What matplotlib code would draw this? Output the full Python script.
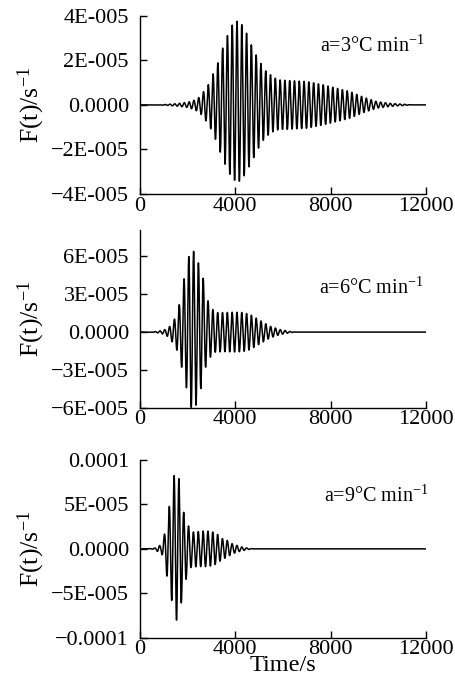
import numpy as np
import matplotlib
matplotlib.use("Agg")
import matplotlib.pyplot as plt

plt.rcParams['font.family'] = ['Liberation Serif', 'DejaVu Serif']
plt.rcParams['mathtext.fontset'] = 'custom'
plt.rcParams['mathtext.rm'] = 'Liberation Serif'
plt.rcParams['mathtext.it'] = 'Liberation Serif:italic'

# ---- data (amplitudes in units of 1e-5 s^-1) ----
rates = ["a=3°C min$^{-1}$", "a=6°C min$^{-1}$", "a=9°C min$^{-1}$"]

# panel 1: upper / lower envelope knots
t_up1 = [0, 800, 1200, 1600, 2000, 2300, 2520, 2860, 3050, 3250, 3440, 3665, 3860, 4070,
         4270, 4480, 4670, 4870, 5065, 5270, 5480, 5670, 5870, 6100, 7000, 7690, 8250,
         8810, 9370, 9930, 10490, 11190, 11400, 12000]
up1 = [0, 0, 0.03, 0.06, 0.12, 0.22, 0.37, 0.9, 1.35, 1.83, 2.47, 3.1, 3.57, 3.75,
       3.6, 3.2, 2.7, 2.25, 1.87, 1.53, 1.35, 1.2, 1.12, 1.1, 1.05, 0.9, 0.75,
       0.6, 0.35, 0.15, 0.07, 0.02, 0, 0]
t_lo1 = t_up1
lo1 = [0, 0, 0.03, 0.06, 0.12, 0.22, 0.37, 0.85, 1.25, 1.75, 2.35, 2.9, 3.3, 3.45,
       3.4, 2.95, 2.6, 2.15, 1.75, 1.45, 1.27, 1.15, 1.1, 1.1, 1.05, 0.9, 0.75,
       0.6, 0.35, 0.15, 0.07, 0.02, 0, 0]

# panel 2
t_up2 = [0, 500, 800, 1050, 1260, 1440, 1650, 1830, 2050, 2250, 2450, 2650, 2850, 3050,
         3250, 3500, 4000, 4320, 4620, 5040, 5455, 5875, 6295, 6550, 12000]
up2 = [0, 0, 0.08, 0.2, 0.47, 1.0, 2.2, 4.08, 6.0, 6.4, 5.5, 4.3, 2.5, 1.8,
       1.55, 1.55, 1.58, 1.55, 1.4, 0.92, 0.47, 0.2, 0.05, 0, 0]
t_lo2 = [0, 500, 800, 1050, 1260, 1540, 1748, 1958, 2154, 2350, 2550, 2750, 2950, 3150,
         3500, 4000, 4320, 4620, 5040, 5455, 5875, 6295, 6550, 12000]
lo2 = [0, 0, 0.08, 0.2, 0.5, 1.4, 2.8, 4.5, 6.0, 5.8, 4.5, 2.8, 2.0, 1.6,
       1.55, 1.58, 1.55, 1.4, 0.92, 0.47, 0.2, 0.05, 0, 0]

# panel 3
t_up3 = [0, 300, 420, 630, 840, 1035, 1230, 1440, 1636, 1830, 2040, 2240, 2450, 2640,
         2850, 3050, 3245, 3455, 3650, 3850, 4055, 4265, 4475, 4755, 12000]
up3 = [0, 0, 0.03, 0.1, 0.4, 1.72, 4.8, 8.4, 7.9, 4.15, 2.55, 1.9, 1.95, 2.0,
       2.0, 1.9, 1.65, 1.16, 0.97, 0.6, 0.4, 0.22, 0.1, 0, 0]
t_lo3 = [0, 300, 600, 940, 1130, 1340, 1540, 1735, 1945, 2140, 2400, 2800, 3050, 3245,
         3455, 3650, 3850, 4055, 4265, 4475, 4755, 12000]
lo3 = [0, 0, 0.05, 0.7, 3.1, 5.95, 8.1, 6.07, 3.3, 2.1, 2.0, 2.0, 1.9, 1.65,
       1.16, 0.97, 0.6, 0.4, 0.22, 0.1, 0, 0]

# oscillation period (s) and time of a crest (s)
periods = [201, 202, 203]
crest_times = [4070, 2250, 1430]

# axes ticks
x_ticks = [0, 4000, 8000, 12000]
x_labels = ["0", "4000", "8000", "12000"]
y_ticks = [[-4e-5, -2e-5, 0, 2e-5, 4e-5],
           [-6e-5, -3e-5, 0, 3e-5, 6e-5],
           [-1e-4, -5e-5, 0, 5e-5, 1e-4]]
y_labels = [["\u22124E-005", "\u22122E-005", "0.0000", "2E-005", "4E-005"],
            ["\u22126E-005", "\u22123E-005", "0.0000", "3E-005", "6E-005"],
            ["\u22120.0001", "\u22125E-005", "0.0000", "5E-005", "0.0001"]]
y_lims = [(-4e-5, 4e-5), (-6e-5, 8.1e-5), (-1e-4, 1e-4)]

envelopes = [(t_up1, up1, t_lo1, lo1), (t_up2, up2, t_lo2, lo2), (t_up3, up3, t_lo3, lo3)]

fig = plt.figure(figsize=(4.56, 6.9), dpi=100)
rects = [[0.307, 0.7188, 0.6272, 0.2584],
         [0.307, 0.4091, 0.6272, 0.2576],
         [0.307, 0.0758, 0.6272, 0.2575]]
text_pos = [(0.995, 0.83), (0.99, 0.675), (1.01, 0.795)]

t = np.arange(0, 12001, 2.0)
for i in range(3):
    ax = fig.add_axes(rects[i])
    tu, u, tl, l = envelopes[i]
    eu = np.interp(t, tu, u) * 1e-5
    el = np.interp(t, tl, l) * 1e-5
    carrier = np.cos(2 * np.pi * (t - crest_times[i]) / periods[i])
    y = (eu - el) / 2 + (eu + el) / 2 * carrier
    ax.plot(t, y, color='black', lw=1.1)
    ax.set_xlim(0, 12000)
    ax.set_ylim(*y_lims[i])
    ax.set_xticks(x_ticks)
    ax.set_xticklabels(x_labels)
    ax.set_yticks(y_ticks[i])
    ax.set_yticklabels(y_labels[i])
    for s in ['top', 'right']:
        ax.spines[s].set_visible(False)
    for s in ['left', 'bottom']:
        ax.spines[s].set_linewidth(1.0)
    ax.tick_params(direction='in', length=5, width=1.0, labelsize=16)
    ax.tick_params(axis='y', pad=8)
    ax.tick_params(axis='x', pad=2)
    ax.set_ylabel("F(t)/s$^{-1}$", fontsize=18.5)
    ax.yaxis.set_label_coords(-0.325, 0.5)
    ax.text(text_pos[i][0], text_pos[i][1], rates[i], transform=ax.transAxes,
            ha='right', va='center', fontsize=14.5)
    if i == 2:
        ax.set_xlabel("Time/s", fontsize=17.5)
        ax.xaxis.set_label_coords(0.5, -0.10)

fig.savefig("out.png", dpi=100, facecolor='white')
